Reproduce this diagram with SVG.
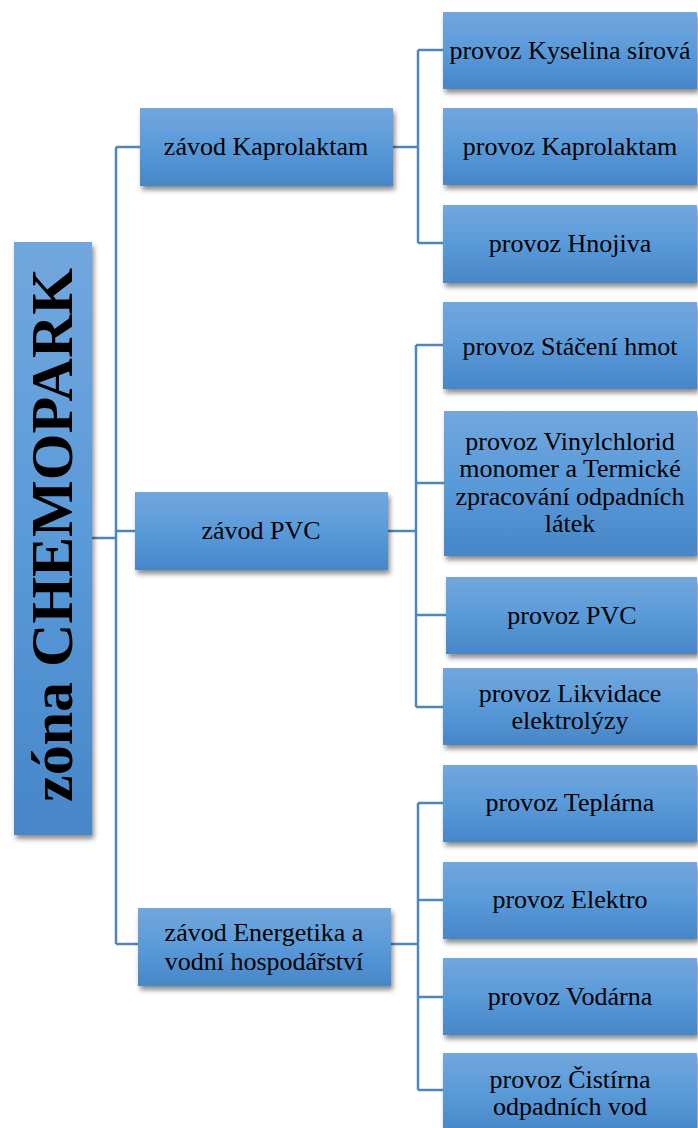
<svg xmlns="http://www.w3.org/2000/svg" width="698" height="1128" viewBox="0 0 698 1128">
<defs>
<linearGradient id="g" x1="0" y1="0" x2="0" y2="1">
<stop offset="0" stop-color="#72a7dd"/>
<stop offset="0.5" stop-color="#5a9ad9"/>
<stop offset="1" stop-color="#4786c8"/>
</linearGradient>
<filter id="sh" x="-10%" y="-10%" width="125%" height="130%">
<feDropShadow dx="2" dy="4" stdDeviation="2.5" flood-color="#000" flood-opacity="0.45"/>
</filter>
</defs>
<style>
.box{fill:url(#g);filter:url(#sh)}
.t{font-family:'Liberation Serif',serif;font-size:26px;fill:#000;text-anchor:middle}
.root{font-family:'Liberation Serif',serif;font-size:60px;font-weight:bold;fill:#000;text-anchor:middle}
.c{fill:none;stroke:#4f86c0;stroke-width:2.5}
</style>
<rect width="698" height="1128" fill="#fff"/>
<g id="connectors">
<path class="c" d="M92 538H116M116 147V944M116 147H140M116 531H135M116 944H138"/>
<path class="c" d="M393 147H418M418 50V243M418 50H443M418 243H443"/>
<path class="c" d="M388 531H416M416 345V707M416 345H443M416 483H444M416 615H446M416 707H443"/>
<path class="c" d="M391 944H418M418 803V1090M418 803H443M418 900H443M418 997H443M418 1090H443"/>
</g>
<g id="root"><rect class="box" x="14" y="242" width="78" height="593"/><text class="root" transform="translate(72,535) rotate(-90)">zóna CHEMOPARK</text></g>
<g id="zavod-kaprolaktam"><rect class="box" x="140" y="108" width="253" height="78"/><text class="t" x="266" y="155">závod Kaprolaktam</text></g>
<g id="zavod-pvc"><rect class="box" x="135" y="492" width="253" height="78"/><text class="t" x="261" y="539">závod PVC</text></g>
<g id="zavod-energetika"><rect class="box" x="138" y="908" width="253" height="78"/><text class="t" x="264" y="941">závod Energetika a</text><text class="t" x="264" y="970">vodní hospodářství</text></g>
<g id="provoz-kyselina"><rect class="box" x="443" y="12" width="254" height="77"/><text class="t" x="570" y="59">provoz Kyselina sírová</text></g>
<g id="provoz-kaprolaktam"><rect class="box" x="443" y="108" width="254" height="77"/><text class="t" x="570" y="155">provoz Kaprolaktam</text></g>
<g id="provoz-hnojiva"><rect class="box" x="443" y="205" width="254" height="78"/><text class="t" x="570" y="252">provoz Hnojiva</text></g>
<g id="provoz-staceni"><rect class="box" x="443" y="302" width="254" height="87"/><text class="t" x="570" y="355">provoz Stáčení hmot</text></g>
<g id="provoz-vinylchlorid"><rect class="box" x="444" y="411" width="253" height="145"/><text class="t" x="570" y="450">provoz Vinylchlorid</text><text class="t" x="570" y="477">monomer a Termické</text><text class="t" x="570" y="505">zpracování odpadních</text><text class="t" x="570" y="532">látek</text></g>
<g id="provoz-pvc"><rect class="box" x="446" y="577" width="251" height="77"/><text class="t" x="572" y="624">provoz PVC</text></g>
<g id="provoz-likvidace"><rect class="box" x="443" y="668" width="254" height="77"/><text class="t" x="570" y="702">provoz Likvidace</text><text class="t" x="570" y="729">elektrolýzy</text></g>
<g id="provoz-teplarna"><rect class="box" x="443" y="765" width="254" height="77"/><text class="t" x="570" y="811">provoz Teplárna</text></g>
<g id="provoz-elektro"><rect class="box" x="443" y="862" width="254" height="77"/><text class="t" x="570" y="908">provoz Elektro</text></g>
<g id="provoz-vodarna"><rect class="box" x="443" y="958" width="254" height="77"/><text class="t" x="570" y="1005">provoz Vodárna</text></g>
<g id="provoz-cistirna"><rect class="box" x="443" y="1053" width="254" height="80"/><text class="t" x="570" y="1088">provoz Čistírna</text><text class="t" x="570" y="1115">odpadních vod</text></g>
</svg>
